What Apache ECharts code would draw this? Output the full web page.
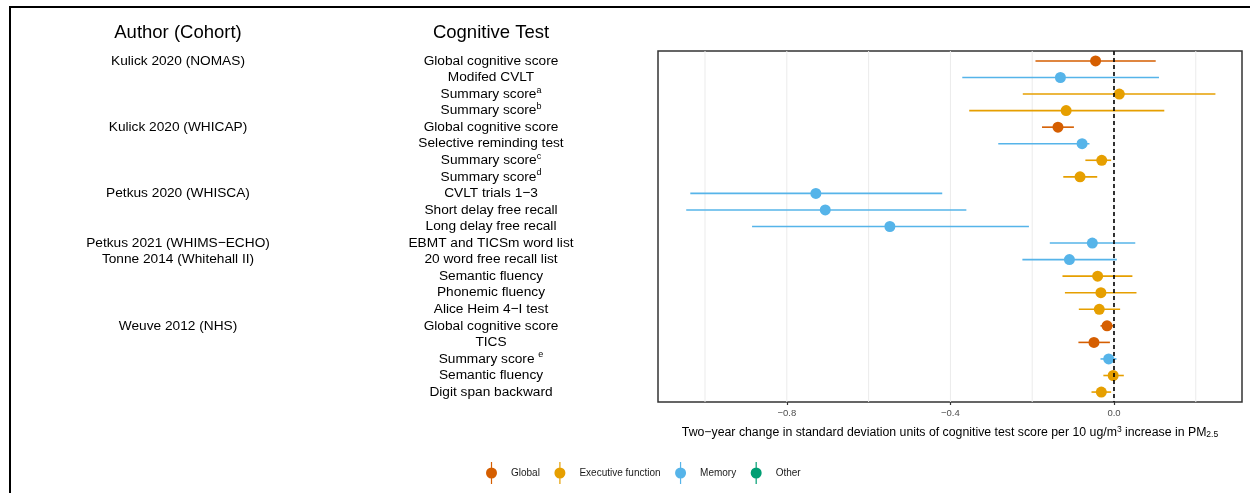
<!DOCTYPE html>
<html>
<head>
<meta charset="utf-8">
<script src="https://cdn.jsdelivr.net/npm/echarts@6/dist/echarts.min.js"></script>
<style>html,body{margin:0;padding:0;background:#fff}#c{width:1250px;height:493px}</style>
</head>
<body>
<div id="c"></div>
<script>
// ---- data ----
const authors = ['Kulick 2020 (NOMAS)','','','','Kulick 2020 (WHICAP)','','','','Petkus 2020 (WHISCA)','','','Petkus 2021 (WHIMS\u2212ECHO)','Tonne 2014 (Whitehall II)','','','','Weuve 2012 (NHS)','','','',''];
const tests = ['Global cognitive score','Modifed CVLT','Summary score','Summary score','Global cognitive score','Selective reminding test','Summary score','Summary score','CVLT trials 1\u22123','Short delay free recall','Long delay free recall','EBMT and TICSm word list','20 word free recall list','Semantic fluency','Phonemic fluency','Alice Heim 4\u2212I test','Global cognitive score','TICS','Summary score ','Semantic fluency','Digit span backward'];
const notes = ['','','a','b','','','c','d','','','','','','','','','','','e','',''];
const domains = ['Global','Memory','Executive function','Executive function','Global','Memory','Executive function','Executive function','Memory','Memory','Memory','Memory','Memory','Executive function','Executive function','Executive function','Global','Global','Memory','Executive function','Executive function'];
const estimates = [-0.045,-0.131,0.013,-0.117,-0.137,-0.078,-0.030,-0.083,-0.729,-0.706,-0.548,-0.053,-0.109,-0.040,-0.032,-0.036,-0.017,-0.049,-0.013,-0.002,-0.031];
const lower = [-0.192,-0.371,-0.223,-0.354,-0.176,-0.283,-0.070,-0.124,-1.036,-1.046,-0.885,-0.157,-0.224,-0.126,-0.120,-0.086,-0.033,-0.087,-0.033,-0.026,-0.055];
const upper = [0.102,0.110,0.248,0.123,-0.098,-0.060,-0.007,-0.041,-0.420,-0.361,-0.208,0.052,0.007,0.045,0.055,0.015,-0.002,-0.010,0.006,0.024,-0.007];
const legendNames = ['Global','Executive function','Memory','Other'];
const legendColors = ['#D55E00','#E69F00','#56B4E9','#009E73'];
const xTicks = [-0.8,-0.4,0.0];
const xGrid = [-1.0,-0.8,-0.6,-0.4,-0.2,0.0,0.2];

const FONT = '"Liberation Sans", Arial, Helvetica, sans-serif';
const rows = tests.map((t,i)=>i+1);
const YMIN = 0.4, YMAX = rows.length + 0.6;

const chart = echarts.init(document.getElementById('c'), null, {renderer:'canvas'});

const domainSeries = legendNames.map((name, k) => ({
  type: 'custom',
  name: name,
  z: 3,
  itemStyle: {color: legendColors[k]},
  encode: {x: [0,1,2], y: 3},
  data: rows.filter(r => domains[r-1] === name).map(r => [estimates[r-1], lower[r-1], upper[r-1], r]),
  renderItem: function(params, api) {
    const y = api.value(3);
    const p = api.coord([api.value(0), y]);
    const a = api.coord([api.value(1), y]);
    const b = api.coord([api.value(2), y]);
    const c = api.visual('color');
    return {type:'group', children:[
      {type:'line', shape:{x1:a[0], y1:a[1], x2:b[0], y2:b[1]}, style:{stroke:c, lineWidth:1.6}},
      {type:'circle', shape:{cx:p[0], cy:p[1], r:5.5}, style:{fill:c}}
    ]};
  }
}));

const option = {
  animation: false,
  backgroundColor: '#fff',
  grid: {left: 658, right: 8, top: 51, bottom: 91, show: true, borderColor: '#333', borderWidth: 1.5, backgroundColor: 'transparent'},
  xAxis: {
    type: 'value', min: -1.115, max: 0.313,
    splitLine: {show:false},
    axisLine: {show:false},
    axisTick: {show:true, length:3, lineStyle:{color:'#333', width:1.2}, customValues: xTicks},
    axisLabel: {customValues: xTicks, fontSize: 9.5, color: '#4d4d4d', fontFamily: FONT, margin: 6,
      formatter: v => v.toFixed(1).replace('-', '\u2212')},
    name: '{n|Two\u2212year change in standard deviation units of cognitive test score per 10 ug/m}{sup|3}{n| increase in PM}{sub|2.5}',
    nameLocation: 'middle', nameGap: 23,
    nameTextStyle: {fontFamily: FONT, color:'#000', rich: {
      n: {fontSize: 12.3, fontFamily: FONT, color:'#000'},
      sup: {fontSize: 8.5, fontFamily: FONT, color:'#000', padding:[0,0,6,0]},
      sub: {fontSize: 8.5, fontFamily: FONT, color:'#000', padding:[5,0,0,0]}
    }}
  },
  yAxis: [
    {
      type: 'value', min: YMIN, max: YMAX, inverse: true,
      splitLine: {show:false}, axisLine: {show:false}, axisTick: {show:false},
      axisLabel: {customValues: rows, align: 'center', margin: 167, color:'#000', fontFamily: FONT, fontSize: 13.7,
        formatter: v => { const i = Math.round(v) - 1; const n = notes[i]; return '{t|' + tests[i] + '}' + (n ? '{s|' + n + '}' : ''); },
        rich: {t: {fontSize: 13.7, fontFamily: FONT, color:'#000'}, s: {fontSize: 9, fontFamily: FONT, color:'#000', padding:[0,0,8,0]}}
      }
    },
    {
      type: 'value', min: YMIN, max: YMAX, inverse: true, position: 'left',
      splitLine: {show:false}, axisLine: {show:false}, axisTick: {show:false},
      axisLabel: {customValues: rows, align: 'center', margin: 480, color:'#000', fontFamily: FONT, fontSize: 13.7,
        formatter: v => authors[Math.round(v) - 1] }
    }
  ],
  legend: {
    data: legendNames, left: 481, top: 457, orient: 'horizontal',
    itemWidth: 11, itemHeight: 22, itemGap: 14.5,
    icon: 'path://M4.9,0H6.1V22H4.9Z M11,11A5.5,5.5,0,1,1,0,11A5.5,5.5,0,1,1,11,11Z',
    formatter: name => '{a|' + name + '}',
    textStyle: {fontSize: 10, fontFamily: FONT, color: '#1a1a1a', rich: {a: {fontSize:10, fontFamily: FONT, color:'#1a1a1a', padding:[0,0,0,9]}}},
    selectedMode: false
  },
  graphic: [
    {type:'rect', shape:{x:10, y:7, width:1300, height:600}, style:{fill:'none', stroke:'#000', lineWidth:2}, silent:true},
    {type:'text', x:178, y:33, style:{text:'Author (Cohort)', fontSize:18.5, fontFamily:FONT, fill:'#000', align:'center', verticalAlign:'middle'}},
    {type:'text', x:491, y:33, style:{text:'Cognitive Test', fontSize:18.5, fontFamily:FONT, fill:'#000', align:'center', verticalAlign:'middle'}}
  ],
  series: [
    {
      type: 'custom', name: 'grid', z: 0, silent: true,
      encode: {x: 0},
      data: xGrid.map(v => [v]),
      renderItem: function(params, api) {
        const a = api.coord([api.value(0), YMIN]);
        const b = api.coord([api.value(0), YMAX]);
        return {type:'line', shape:{x1:a[0], y1:a[1], x2:b[0], y2:b[1]}, style:{stroke:'#ebebeb', lineWidth:1}};
      }
    },
    ...domainSeries,
    {
      type: 'custom', name: 'zero', z: 10, silent: true,
      encode: {x: 0},
      data: [[0]],
      renderItem: function(params, api) {
        const a = api.coord([api.value(0), YMIN]);
        const b = api.coord([api.value(0), YMAX]);
        return {type:'line', shape:{x1:a[0], y1:a[1], x2:b[0], y2:b[1]}, style:{stroke:'#000', lineWidth:1.6, lineDash:[4,3]}};
      }
    }
  ]
};
chart.setOption(option);
</script>
</body>
</html>
